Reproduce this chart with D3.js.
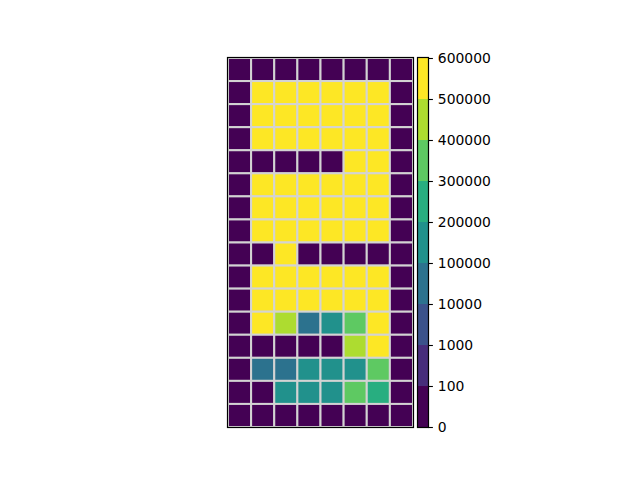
<!DOCTYPE html>
<html>
<head>
<meta charset="utf-8">
<script src="https://cdn.jsdelivr.net/npm/d3@7"></script>
<style>
  body { margin: 0; background: #fff; }
  svg { display: block; font-family: "DejaVu Sans", sans-serif; }
</style>
</head>
<body>
<div id="chart"></div>
<script>
// cell values, top row first (8 columns x 16 rows)
const Y = 550000, LG = 450000, G = 350000, TG = 250000, T = 150000, C = 50000, D = 0;
const grid = [
  [D, D, D, D, D, D, D, D],
  [D, Y, Y, Y, Y, Y, Y, D],
  [D, Y, Y, Y, Y, Y, Y, D],
  [D, Y, Y, Y, Y, Y, Y, D],
  [D, D, D, D, D, Y, Y, D],
  [D, Y, Y, Y, Y, Y, Y, D],
  [D, Y, Y, Y, Y, Y, Y, D],
  [D, Y, Y, Y, Y, Y, Y, D],
  [D, D, Y, D, D, D, D, D],
  [D, Y, Y, Y, Y, Y, Y, D],
  [D, Y, Y, Y, Y, Y, Y, D],
  [D, Y, LG, C, T, G, Y, D],
  [D, D, D, D, D, LG, Y, D],
  [D, C, C, T, T, T, G, D],
  [D, D, T, T, T, G, TG, D],
  [D, D, D, D, D, D, D, D]
];
const boundaries = [0, 100, 1000, 10000, 100000, 200000, 300000, 400000, 500000, 600000];
const tickLabels = ["0", "100", "1000", "10000", "100000", "200000", "300000", "400000", "500000", "600000"];

const width = 640, height = 480;
const plot = {left: 228, right: 413, top: 58, bottom: 427};
const cbar = {left: 418, right: 428};

const nBins = boundaries.length - 1;
const binColors = d3.range(nBins).map(i => d3.interpolateViridis(i / (nBins - 1)));
const color = d3.scaleThreshold()
  .domain(boundaries.slice(1, -1))
  .range(binColors);

const svg = d3.select("#chart").append("svg")
  .attr("width", width)
  .attr("height", height);

const x = d3.scaleBand()
  .domain(d3.range(grid[0].length))
  .range([plot.left, plot.right]);
const y = d3.scaleBand()
  .domain(d3.range(grid.length))
  .range([plot.top, plot.bottom]);

const cells = [];
grid.forEach((row, r) => row.forEach((v, c) => cells.push({r, c, v})));

svg.append("clipPath").attr("id", "clip")
  .append("rect")
  .attr("x", plot.left).attr("y", plot.top)
  .attr("width", plot.right - plot.left).attr("height", plot.bottom - plot.top);

svg.append("g").attr("clip-path", "url(#clip)")
  .selectAll("rect")
  .data(cells)
  .enter().append("rect")
  .attr("x", d => x(d.c))
  .attr("y", d => y(d.r))
  .attr("width", x.bandwidth())
  .attr("height", y.bandwidth())
  .attr("fill", d => color(d.v))
  .attr("stroke", "#d3d3d3")
  .attr("stroke-width", 2);

// axes frame
svg.append("rect")
  .attr("x", plot.left - 0.5).attr("y", plot.top - 0.5)
  .attr("width", plot.right - plot.left + 1).attr("height", plot.bottom - plot.top + 1)
  .attr("fill", "none").attr("stroke", "#000").attr("stroke-width", 1.2);

// colorbar: bins evenly spaced
const cy = d3.scalePoint()
  .domain(tickLabels)
  .range([plot.bottom, plot.top]);

svg.append("g").selectAll("rect")
  .data(d3.range(nBins))
  .enter().append("rect")
  .attr("x", cbar.left)
  .attr("y", i => cy(tickLabels[i + 1]))
  .attr("width", cbar.right - cbar.left)
  .attr("height", i => cy(tickLabels[i]) - cy(tickLabels[i + 1]))
  .attr("fill", i => binColors[i]);

svg.append("rect")
  .attr("x", cbar.left - 0.5).attr("y", plot.top - 0.5)
  .attr("width", cbar.right - cbar.left + 1).attr("height", plot.bottom - plot.top + 1)
  .attr("fill", "none").attr("stroke", "#000").attr("stroke-width", 1.2);

const axis = d3.axisRight(cy).tickSizeOuter(0).tickSize(4.9).tickPadding(4.9);
const ax = svg.append("g")
  .attr("transform", `translate(${cbar.right},0)`)
  .call(axis);
ax.select(".domain").remove();
ax.selectAll(".tick line").attr("stroke", "#000").attr("stroke-width", 1.1);
ax.selectAll(".tick text")
  .attr("fill", "#000")
  .style("font-size", "13.9px")
  .style("font-family", "DejaVu Sans, sans-serif");
</script>
</body>
</html>
